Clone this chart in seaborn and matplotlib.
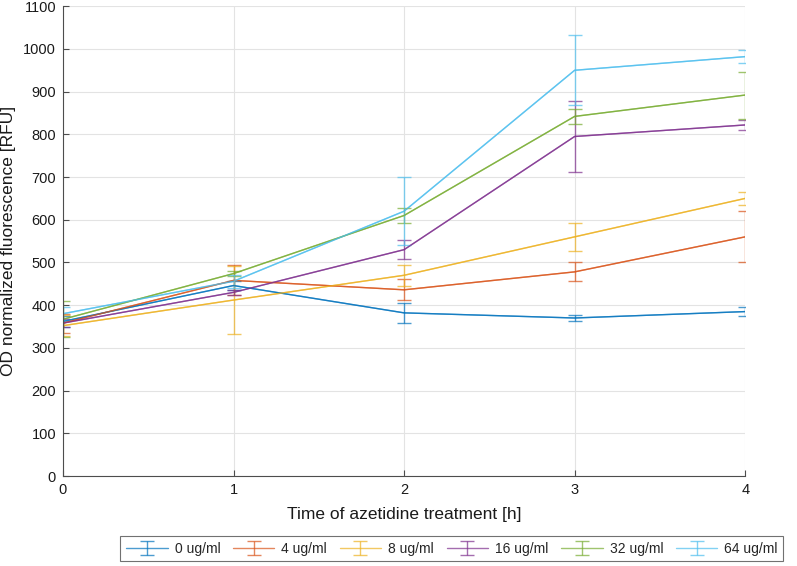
import numpy as np
import pandas as pd
import seaborn as sns
import matplotlib.pyplot as plt

# time points [h]
hours = [0, 1, 2, 3, 4]
conc_labels = ['0 ug/ml', '4 ug/ml', '8 ug/ml', '16 ug/ml', '32 ug/ml', '64 ug/ml']

# mean OD normalized fluorescence per concentration
mean_0 = [362, 446, 382, 370, 385]
mean_4 = [358, 458, 436, 478, 560]
mean_8 = [352, 412, 470, 560, 650]
mean_16 = [358, 430, 530, 795, 822]
mean_32 = [367, 474, 610, 842, 892]
mean_64 = [380, 456, 620, 950, 982]

# error bar half-widths
err_0 = [12, 10, 24, 8, 11]
err_4 = [22, 35, 25, 22, 60]
err_8 = [25, 80, 25, 33, 15]
err_16 = [10, 5, 22, 83, 12]
err_32 = [42, 5, 18, 17, 55]
err_64 = [15, 15, 80, 82, 16]

means = [mean_0, mean_4, mean_8, mean_16, mean_32, mean_64]
errs = [err_0, err_4, err_8, err_16, err_32, err_64]

colors = ['#0072BD', '#D95319', '#EDB120', '#7E2F8E', '#77AC30', '#4DBEEE']

df = pd.DataFrame({
    'Time': np.tile(hours, len(conc_labels)),
    'RFU': np.concatenate(means),
    'err': np.concatenate(errs),
    'Concentration': np.repeat(conc_labels, len(hours)),
})

sns.set_theme(style='whitegrid')
plt.rcParams['font.family'] = ['Liberation Sans', 'DejaVu Sans']

fig = plt.figure(figsize=(7.97, 5.66), dpi=100)
ax = fig.add_axes([0.079, 0.159, 0.856, 0.83])

sns.lineplot(data=df, x='Time', y='RFU', hue='Concentration',
             palette=colors, linewidth=1, alpha=0.7, legend=False, ax=ax)

for label, color in zip(conc_labels, colors):
    sub = df[df['Concentration'] == label]
    ax.errorbar(sub['Time'], sub['RFU'], yerr=sub['err'], color=color,
                linewidth=1, elinewidth=1, capsize=5, capthick=1,
                alpha=0.7, label=label)

ax.set_xlim(0, 4)
ax.set_ylim(0, 1100)
ax.set_xticks(hours)
ax.set_yticks(range(0, 1101, 100))
ax.grid(True, color='#e3e3e3', linewidth=0.8)
ax.set_facecolor('white')

sns.despine(ax=ax)
for side in ['left', 'bottom']:
    ax.spines[side].set_color('#4d4d4d')
    ax.spines[side].set_linewidth(0.8)

ax.tick_params(axis='both', direction='in', length=4, width=0.8,
               color='#4d4d4d', labelsize=10.5, labelcolor='#1a1a1a', pad=5)
ax.tick_params(axis='both', which='both', left=True, bottom=True)

ax.set_xlabel('Time of azetidine treatment [h]', fontsize=12.5, color='#1a1a1a', labelpad=7)
ax.set_ylabel('OD normalized fluorescence [RFU]', fontsize=12.5, color='#1a1a1a')
ax.yaxis.set_label_coords(-0.069, 0.5)

leg = fig.legend(loc='lower center', bbox_to_anchor=(0.567, -0.004), ncol=6,
                 fontsize=10, frameon=True, fancybox=False, edgecolor='#4d4d4d',
                 handlelength=3, columnspacing=0.9, handletextpad=0.5,
                 borderpad=0.4)
leg.get_frame().set_linewidth(0.8)

fig.savefig('out.png', dpi=100, facecolor='white')
